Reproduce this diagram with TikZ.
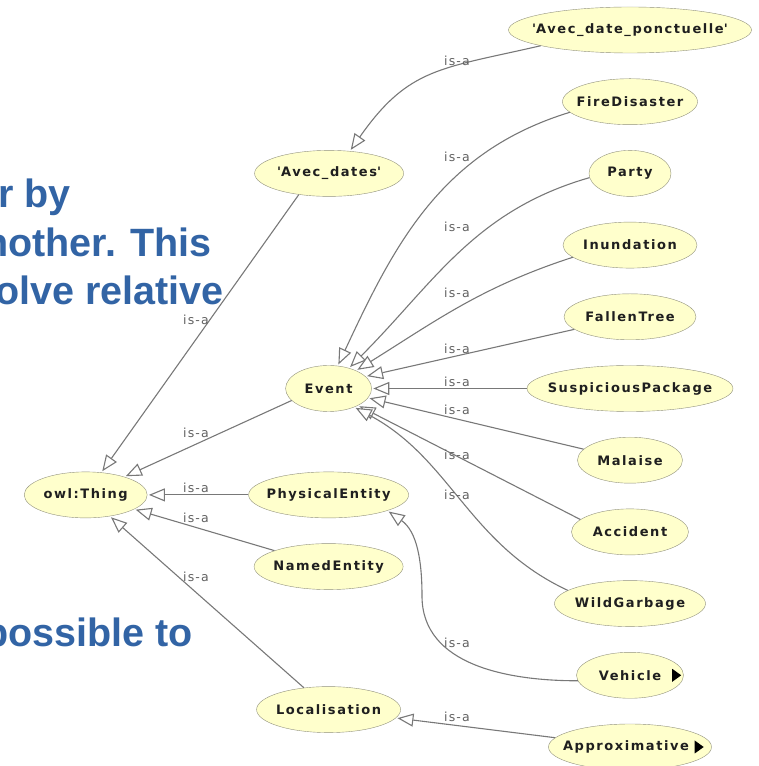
\documentclass[tikz,border=0pt]{standalone}
\usepackage{fontspec}
\setmainfont{Liberation Sans}
\newfontfamily\clsfont{DejaVu Sans}[LetterSpace=12]
\newfontfamily\isafont{DejaVu Sans}[LetterSpace=9]
\usetikzlibrary{positioning,shapes.geometric,arrows.meta}

\definecolor{clsfill}{RGB}{255,255,204}
\definecolor{clsline}{RGB}{145,145,125}
\definecolor{isagray}{RGB}{120,120,120}
\definecolor{slideblue}{RGB}{50,100,165}

\begin{document}
\begin{tikzpicture}[x=1pt, y=1pt, node distance=25.3pt,
    cls/.style={draw=clsline, fill=clsfill, ellipse, inner ysep=0pt,
        inner xsep=-35pt, minimum height=46pt, text=black!88,
        font=\clsfont\bfseries\fontsize{13}{15}\selectfont},
    isa/.style={draw=isagray, line width=1.1pt, shorten >=1.5pt,
        -{Triangle[open, length=16pt, width=13pt, fill=white]}},
    lbl/.style={inner sep=0pt, text=black!62,
        font=\isafont\fontsize{12.5}{14}\selectfont},
    slide/.style={anchor=base east, inner sep=0pt, text=slideblue,
        font=\bfseries\fontsize{39.5}{46}\selectfont}]
    \useasboundingbox (0,0) rectangle (758,766);

    % text of the slide behind the diagram
    \node[slide] (txt1) at (71,558) {r by};
    \node[slide] (txt2) at (212,509) {nother. This};
    \node[slide] (txt3) at (224,461) {olve relative};
    \node[slide] (txt4) at (193,119) {possible to};

    % subclasses, right column
    \node[cls, minimum width=243pt] (ponct) at (630,736) {\textquotesingle Avec\_date\_ponctuelle\textquotesingle};
    \node[cls, minimum width=135pt, below=of ponct] (fire) {FireDisaster};
    \node[cls, minimum width=82pt, below=of fire] (party) {Party};
    \node[cls, minimum width=134pt, below=of party] (inund) {Inundation};
    \node[cls, minimum width=132pt, below=of inund] (fallen) {FallenTree};
    \node[cls, minimum width=206pt, below=of fallen] (susp) {SuspiciousPackage};
    \node[cls, minimum width=105pt, below=of susp] (malaise) {Malaise};
    \node[cls, minimum width=117pt, below=of malaise] (accident) {Accident};
    \node[cls, minimum width=151pt, below=of accident] (wild) {WildGarbage};
    \node[cls, minimum width=107pt, below=of wild] (vehicle) {Vehicle};
    \node[cls, minimum width=163pt, below=of vehicle] (approx) {Approximative\hspace*{8pt}};

    % markers: more subclasses
    \fill ([xshift=-11.5pt]vehicle.east) -- ++(0,6.5) -- ++(9,-6.5) -- ++(-9,-6.5) -- cycle;
    \fill ([xshift=-17pt]approx.east) -- ++(0,6.5) -- ++(9,-6.5) -- ++(-9,-6.5) -- cycle;

    % middle column
    \node[cls, minimum width=149pt, left=185pt of party] (avec) {\textquotesingle Avec\_dates\textquotesingle};
    \node[cls, minimum width=86pt, left=155pt of susp] (event) {Event};
    \node[cls, minimum width=160pt, below=60pt of event] (phys) {PhysicalEntity};
    \node[cls, minimum width=149pt, below=of phys] (named) {NamedEntity};
    \node[cls, minimum width=144pt, below=96.6pt of named] (loc) {Localisation};
    \node[cls, minimum width=123pt, left=101pt of phys] (thing) {owl:Thing};

    \coordinate (vbend) at (422,170);

    % is-a links
    \draw[isa] (ponct.190) to[out=193, in=55, looseness=1.2] (avec.47);
    \draw[isa] (fire.190) to[out=197, in=65] (event.68);
    \draw[isa] (party.186) to[out=196, in=45] (event.45);
    \draw[isa] (inund.192) to[out=198, in=32] (event.33);
    \draw[isa] (fallen) -- (event.18);
    \draw[isa] (susp) -- (event);
    \draw[isa] (malaise) -- (event);
    \draw[isa] (accident.166) -- (event.-30);
    \draw[isa] (wild.168) to[out=155, in=-28] (event.-36);
    \draw[isa] (vehicle.186) to[out=180, in=-90] (vbend) to[out=90, in=-35] (phys.-15);
    \draw[isa] (approx) -- (loc);
    \draw[isa] (avec.215) -- (thing.55);
    \draw[isa] (event.198) -- (thing.25);
    \draw[isa] (phys) -- (thing);
    \draw[isa] (named) -- (thing);
    \draw[isa] (loc) -- (thing);

    % labels of the links
    \node[lbl] (l-ponct) at (457,705) {is-a};
    \node[lbl] (l-fire) at (457,609) {is-a};
    \node[lbl] (l-party) at (457,539) {is-a};
    \node[lbl] (l-inund) at (457,473) {is-a};
    \node[lbl] (l-fallen) at (457,417) {is-a};
    \node[lbl] (l-susp) at (457,384) {is-a};
    \node[lbl] (l-malaise) at (457,356) {is-a};
    \node[lbl] (l-accident) at (457,311) {is-a};
    \node[lbl] (l-wild) at (457,271) {is-a};
    \node[lbl] (l-vehicle) at (457,123) {is-a};
    \node[lbl] (l-approx) at (457,49) {is-a};
    \node[lbl] (l-avec) at (196,446) {is-a};
    \node[lbl] (l-event) at (196,333) {is-a};
    \node[lbl] (l-phys) at (196,278) {is-a};
    \node[lbl] (l-named) at (196,248) {is-a};
    \node[lbl] (l-loc) at (196,189) {is-a};
\end{tikzpicture}
\end{document}
